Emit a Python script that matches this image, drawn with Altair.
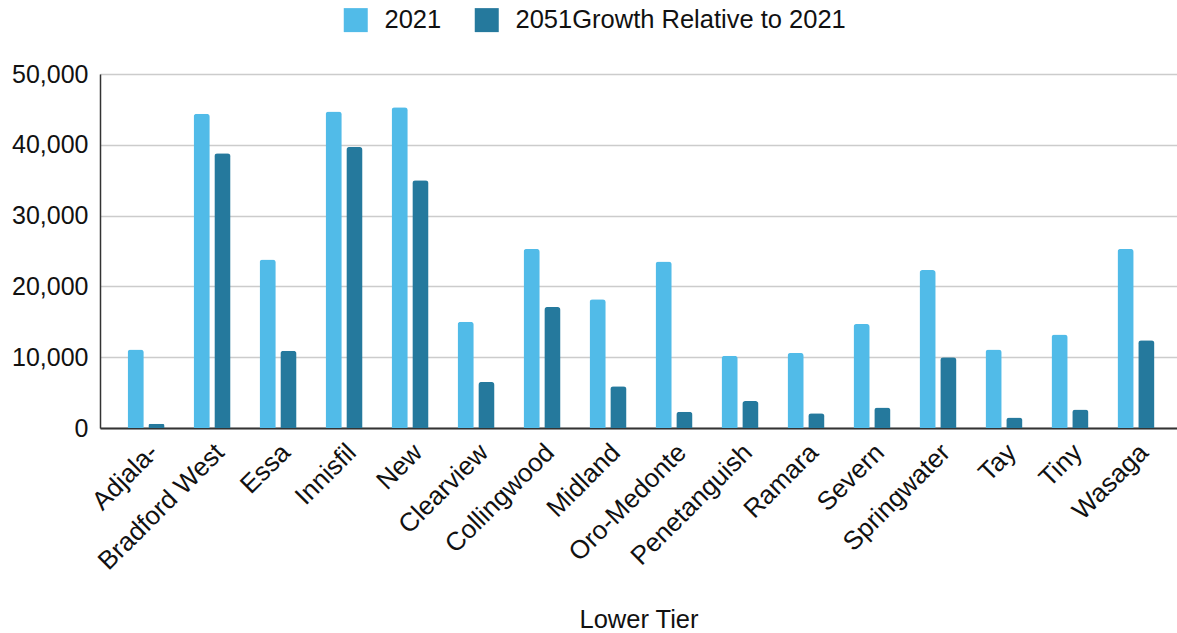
import altair as alt
import pandas as pd

categories = ["Adjala-", "Bradford West", "Essa", "Innisfil", "New", "Clearview",
              "Collingwood", "Midland", "Oro-Medonte", "Penetanguish", "Ramara",
              "Severn", "Springwater", "Tay", "Tiny", "Wasaga"]
values_2021 = [11100, 44400, 23800, 44700, 45300, 15000, 25300, 18200, 23500,
               10200, 10600, 14700, 22300, 11100, 13200, 25300]
values_growth = [600, 38800, 10900, 39700, 35000, 6500, 17100, 5900, 2300,
                 3800, 2100, 2900, 10000, 1500, 2600, 12400]
series = ["2021", "2051Growth Relative to 2021"]
colors = ["#51BBE8", "#25799D"]
y_ticks = [0, 10000, 20000, 30000, 40000, 50000]

rows = []
for c, a, b in zip(categories, values_2021, values_growth):
    rows.append({"cat": c, "series": series[0], "value": a})
    rows.append({"cat": c, "series": series[1], "value": b})
df = pd.DataFrame(rows)

FONT = "Liberation Sans"

chart = alt.Chart(df).mark_bar(
    cornerRadiusTopLeft=3, cornerRadiusTopRight=3
).encode(
    x=alt.X("cat:N", sort=categories,
            scale=alt.Scale(paddingInner=0.44, paddingOuter=0.38, align=0.55),
            axis=alt.Axis(title="Lower Tier", labelAngle=315, labelAlign="right",
                          labelBaseline="middle", labelPadding=20, labelOffset=8,
                          labelOverlap=False,
                          labelLimit=400, labelFontSize=26, labelColor="#111111",
                          labelFont=FONT, ticks=False, domainColor="#333333",
                          domainWidth=2, titleFont=FONT, titleFontSize=25.5,
                          titleFontWeight="normal", titleColor="#111111",
                          titleY=199, titleBaseline="alphabetic")),
    xOffset=alt.XOffset("series:N", sort=series,
                        scale=alt.Scale(paddingInner=0.22)),
    y=alt.Y("value:Q", scale=alt.Scale(domain=[0, 50000], nice=False),
            axis=alt.Axis(title=None, values=y_ticks, format=",.0f", labelFontSize=25,
                          labelFont=FONT, labelColor="#111111", labelPadding=12,
                          ticks=False, domainColor="#333333", domainWidth=1.5,
                          gridColor="#cccccc", gridWidth=1.5)),
    color=alt.Color("series:N", sort=series,
                    scale=alt.Scale(domain=series, range=colors),
                    legend=alt.Legend(title=None, orient="none", direction="horizontal",
                                      legendX=243, legendY=-67, symbolType="square",
                                      symbolSize=576, symbolStrokeWidth=0,
                                      labelFontSize=25.5, labelFont=FONT,
                                      labelColor="#111111", labelOffset=16,
                                      columnPadding=32, padding=0, labelLimit=500))
).properties(
    width=1077, height=354,
    autosize=alt.AutoSizeParams(type="none"),
    padding={"left": 100, "top": 74, "right": 0, "bottom": 205}
).configure_view(stroke=None).configure(background="white")

chart.save("out.html", embed_options={"renderer": "svg", "actions": False})
